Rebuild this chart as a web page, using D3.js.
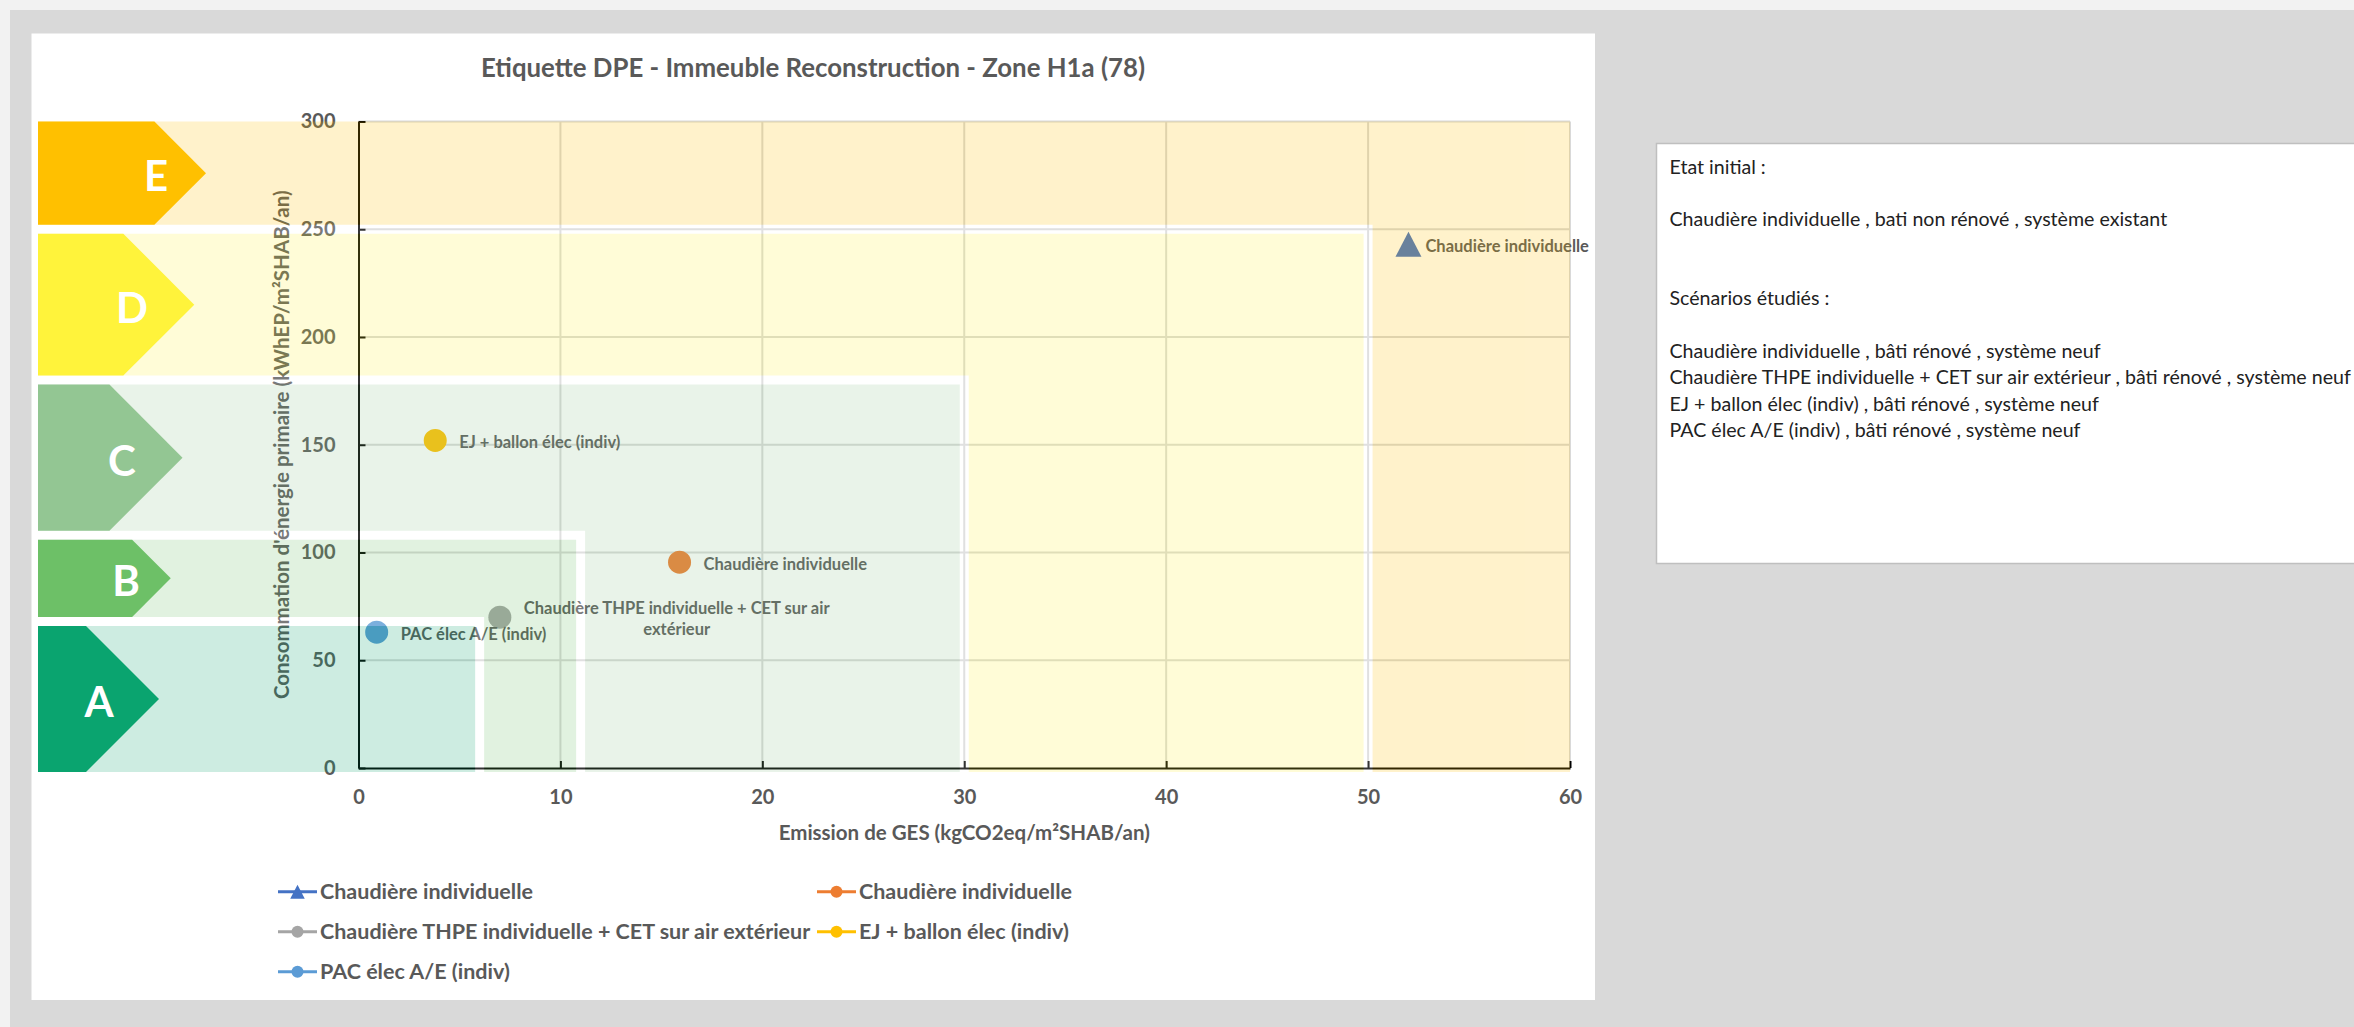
<!DOCTYPE html>
<html>
<head>
<meta charset="utf-8">
<script src="https://cdn.jsdelivr.net/npm/d3@7"></script>
<style>
  html, body { margin: 0; padding: 0; background: #d9d9d9; overflow: hidden; }
  svg { display: block; }
  text { font-family: Lato, "Noto Sans", sans-serif; }
</style>
</head>
<body>
<svg id="chart" width="2354" height="1027"></svg>
<script>
// ---- Scenarios: GES emission (x) vs primary energy consumption (y) ----
const seriesNames = [
  "Chaudière individuelle",
  "Chaudière individuelle",
  "Chaudière THPE individuelle + CET sur air extérieur",
  "EJ + ballon élec (indiv)",
  "PAC élec A/E (indiv)"
];
const gesValues    = [52, 15.9, 7, 3.8, 0.9];      // kgCO2eq/m²SHAB/an
const energyValues = [243, 95.5, 70, 152, 63];     // kWhEP/m²SHAB/an
const pointLabels  = [
  ["Chaudière individuelle"],
  ["Chaudière individuelle"],
  ["Chaudière THPE individuelle + CET sur air", "extérieur"],
  ["EJ + ballon élec (indiv)"],
  ["PAC élec A/E (indiv)"]
];
const seriesColors = ["#4472c4", "#ed7d31", "#a5a5a5", "#ffc000", "#5b9bd5"];
const seriesShapes = ["triangle", "circle", "circle", "circle", "circle"];

// ---- DPE classes (upper bounds of each class as drawn on the label) ----
const dpeClasses   = ["A", "B", "C", "D", "E"];
const dpeEnergyMax = [68, 108, 180, 250, 330];
const dpeGesMax    = [6, 11, 30, 50, 70];
const dpeColors    = ["#0aa46f", "#6dc067", "#93c693", "#fff33b", "#ffc000"];

// ---- Axes ----
const xTicks = [0, 10, 20, 30, 40, 50, 60];
const yTicks = [0, 50, 100, 150, 200, 250, 300];
const chartTitle = "Etiquette DPE - Immeuble Reconstruction - Zone H1a (78)";
const xTitle = "Emission de GES (kgCO2eq/m²SHAB/an)";
const yTitle = "Consommation d'énergie primaire (kWhEP/m²SHAB/an)";

// ---- Side note ----
const noteLines = [
  "Etat initial :",
  "",
  "Chaudière individuelle , bati non rénové , système existant",
  "",
  "",
  "Scénarios étudiés :",
  "",
  "Chaudière individuelle , bâti rénové , système neuf",
  "Chaudière THPE individuelle + CET sur air extérieur , bâti rénové , système neuf",
  "EJ + ballon élec (indiv) , bâti rénové , système neuf",
  "PAC élec A/E (indiv) , bâti rénové , système neuf"
];

// ================= drawing =================
const W = 2354, H = 1027;
const svg = d3.select("#chart");
const TXT = "#595959";

// page background
svg.append("rect").attr("width", W).attr("height", H).attr("fill", "#d9d9d9");
svg.append("rect").attr("width", W).attr("height", 10).attr("fill", "#f2f2f2");
svg.append("rect").attr("width", 10).attr("height", H).attr("fill", "#f2f2f2");

// chart panel
svg.append("rect")
  .attr("x", 31.5).attr("y", 33.5).attr("width", 1563.5).attr("height", 966.5)
  .attr("fill", "#ffffff");

// note box
const note = svg.append("g");
note.append("rect")
  .attr("x", 1656.5).attr("y", 143.5).attr("width", 760).attr("height", 420)
  .attr("fill", "#ffffff").attr("stroke", "#bfbfbf").attr("stroke-width", 1.5);
note.selectAll("text.note").data(noteLines).join("text")
  .attr("class", "note")
  .attr("x", 1669.5)
  .attr("y", (d, i) => 166.7 + i * 26.33)
  .attr("dy", "0.35em")
  .attr("font-size", 19.6)
  .attr("fill", "#222222")
  .text(d => d);

// scales
const x = d3.scaleLinear().domain([0, 60]).range([358.5, 1570]);
const y = d3.scaleLinear().domain([0, 300]).range([768, 121.5]);
const [xMin, xMax] = x.domain();
const [yMin, yMax] = y.domain();

// title
svg.append("text")
  .attr("x", 813).attr("y", 77)
  .attr("text-anchor", "middle")
  .attr("font-size", 25.8).attr("font-weight", 700)
  .attr("fill", TXT)
  .text(chartTitle);

// gridlines
const grid = svg.append("g").attr("stroke", "#d9d9d9").attr("stroke-width", 2);
grid.selectAll("line.v").data(xTicks.filter(t => t > xMin)).join("line")
  .attr("x1", d => x(d)).attr("x2", d => x(d))
  .attr("y1", y(yMin)).attr("y2", y(yMax));
grid.selectAll("line.h").data(yTicks.filter(t => t > yMin)).join("line")
  .attr("x1", x(xMin)).attr("x2", x(xMax))
  .attr("y1", d => y(d)).attr("y2", d => y(d));

// axes
const xAxis = svg.append("g")
  .attr("transform", `translate(0,${y(0)})`)
  .call(d3.axisBottom(x).tickValues(xTicks).tickSizeInner(-7).tickSizeOuter(0).tickPadding(22));
const yAxis = svg.append("g")
  .attr("transform", `translate(${x(0)},0)`)
  .call(d3.axisLeft(y).tickValues(yTicks).tickSizeInner(-7).tickSizeOuter(0).tickPadding(23));
[xAxis, yAxis].forEach(g => {
  g.attr("font-family", null).attr("font-size", null);
  g.select(".domain").attr("stroke", "#000").attr("stroke-width", 2);
  g.selectAll(".tick line").attr("stroke", "#000").attr("stroke-width", 2);
  g.selectAll(".tick text")
    .attr("font-size", 20).attr("font-weight", 700).attr("fill", TXT);
});

// axis titles
svg.append("text")
  .attr("x", (x(xMin) + x(xMax)) / 2).attr("y", 840)
  .attr("text-anchor", "middle")
  .attr("font-size", 20.5).attr("font-weight", 700).attr("fill", TXT)
  .text(xTitle);
svg.append("text")
  .attr("transform", `translate(281,${(y(yMin) + y(yMax)) / 2}) rotate(-90)`)
  .attr("text-anchor", "middle")
  .attr("dominant-baseline", "central")
  .attr("font-size", 20.5).attr("font-weight", 700).attr("fill", TXT)
  .text(yTitle);

// points
const points = seriesNames.map((name, i) => ({
  name, ges: gesValues[i], energy: energyValues[i],
  color: seriesColors[i], shape: seriesShapes[i], label: pointLabels[i]
}));

function markerPath(shape, cx, cy, s) {
  if (shape === "triangle") {
    const hw = s * 0.52, hh = s * 0.5;
    return `M${cx},${cy - hh}L${cx + hw},${cy + hh}L${cx - hw},${cy + hh}Z`;
  }
  const r = s / 2;
  return `M${cx - r},${cy}a${r},${r} 0 1,0 ${2 * r},0a${r},${r} 0 1,0 ${-2 * r},0Z`;
}

const pts = svg.append("g");
pts.selectAll("path").data(points).join("path")
  .attr("d", d => markerPath(d.shape, x(d.ges), y(d.energy), d.shape === "triangle" ? 25 : 23))
  .attr("fill", d => d.color);

// data labels, to the right of each marker, multi-line labels centred
pts.selectAll("text").data(points).join("text")
  .attr("font-size", 16.5).attr("font-weight", 700).attr("fill", TXT)
  .each(function (d) {
    const t = d3.select(this);
    const n = d.label.length;
    const lineH = 21;
    const spans = t.selectAll("tspan").data(d.label).join("tspan")
      .attr("dy", "0.35em")
      .attr("y", (l, j) => y(d.energy) + 2 + (j - (n - 1) / 2) * lineH)
      .text(l => l);
    const widths = [];
    spans.each(function () { widths.push(this.getComputedTextLength()); });
    const maxW = d3.max(widths);
    const x0 = x(d.ges) + (d.shape === "triangle" ? 17 : 24);
    spans.attr("text-anchor", "middle").attr("x", x0 + maxW / 2);
  });

// DPE class bands laid over the plot (translucent)
const bandLeft = 38;
const bandBottom = y(0) + 4;
const gap = 9;
const bands = dpeClasses.map((c, i) => ({
  cls: c, eMax: dpeEnergyMax[i], gMax: dpeGesMax[i], color: dpeColors[i], i
}));
const overlay = svg.append("g").attr("opacity", 0.2);
bands.slice().reverse().forEach(b => {
  const xr = x(Math.min(b.gMax, xMax));
  const yt = y(Math.min(b.eMax, yMax));
  overlay.append("rect")
    .attr("x", bandLeft).attr("y", yt)
    .attr("width", xr - bandLeft).attr("height", bandBottom - yt)
    .attr("fill", b.color);
  let p = "";
  if (b.eMax <= yMax) p += `M${bandLeft},${yt}H${xr}`;
  if (b.gMax <= xMax) p += (p ? "" : `M${xr},${yt}`) + `V${bandBottom}`;
  if (p) overlay.append("path").attr("d", p).attr("fill", "none")
    .attr("stroke", "#ffffff").attr("stroke-width", gap);
});

// class arrows
const letterX = [99, 126, 122, 132, 156];
const arrows = svg.append("g");
bands.forEach((b, i) => {
  const top = b.eMax <= yMax ? y(b.eMax) + gap / 2 : y(yMax);
  const bottom = i === 0 ? bandBottom : y(bands[i - 1].eMax) - gap / 2;
  const half = (bottom - top) / 2;
  const tip = bandLeft + 121 + 11.75 * i;
  arrows.append("path")
    .attr("d", `M${bandLeft},${top}H${tip - half}L${tip},${top + half}L${tip - half},${bottom}H${bandLeft}Z`)
    .attr("fill", b.color);
  arrows.append("text")
    .attr("x", letterX[i]).attr("y", top + half + 3)
    .attr("dy", "0.36em")
    .attr("text-anchor", "middle")
    .attr("font-size", 42).attr("font-weight", 700).attr("fill", "#ffffff")
    .text(b.cls);
});

// legend
const legendPos = [[278, 891.7], [817, 891.7], [278, 931.7], [817, 931.7], [278, 971.7]];
const legend = svg.append("g");
points.forEach((d, i) => {
  const [lx, ly] = legendPos[i];
  const g = legend.append("g").attr("transform", `translate(${lx},${ly})`);
  g.append("line").attr("x1", 0).attr("x2", 39).attr("y1", 0).attr("y2", 0)
    .attr("stroke", d.color).attr("stroke-width", 3);
  g.append("path").attr("d", markerPath(d.shape, 19.5, 0, d.shape === "triangle" ? 14 : 12))
    .attr("fill", d.color);
  g.append("text").attr("x", 42).attr("y", 0).attr("dy", "0.35em")
    .attr("font-size", 21.5).attr("font-weight", 700).attr("fill", TXT)
    .text(d.name);
});
</script>
</body>
</html>
